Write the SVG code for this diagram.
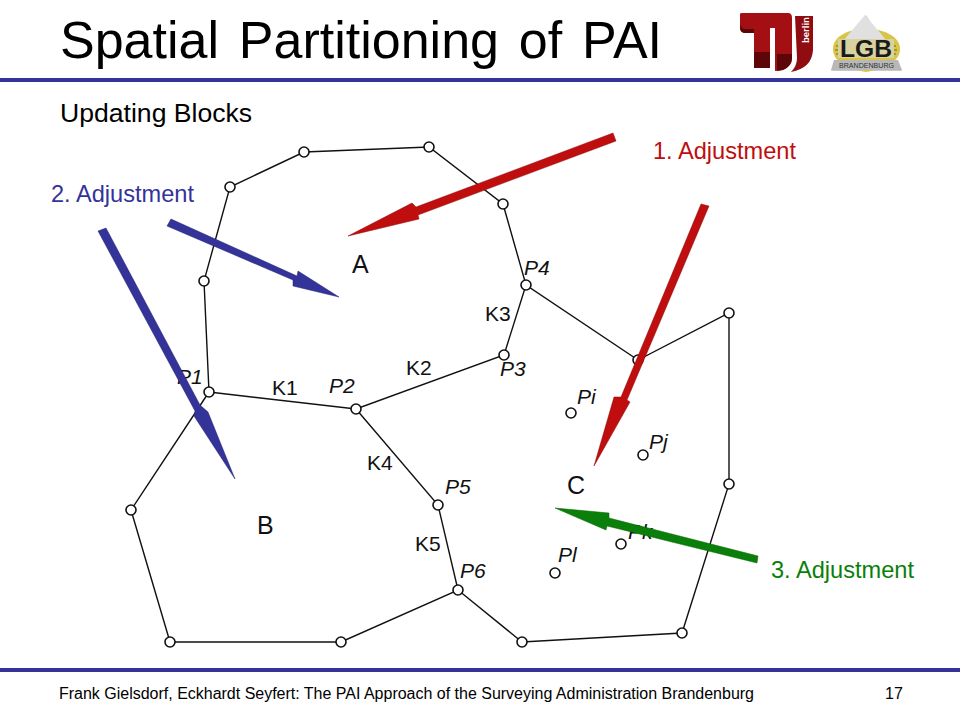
<svg xmlns="http://www.w3.org/2000/svg" width="960" height="720" viewBox="0 0 960 720">
<style>
text{font-family:"Liberation Sans",Arial,sans-serif;fill:#000}
.edge{fill:none;stroke:#111;stroke-width:1.4}
.pt{fill:#fff;stroke:#111;stroke-width:1.6}
.lab{font-size:21px;fill:#111}
.big{font-size:25px;fill:#111}
.it{font-size:21px;font-style:italic;fill:#111}
.adj{font-size:23.6px}
</style>
<rect width="960" height="720" fill="#fff"/>
<g id="header">
<text x="60" y="58" font-size="52" word-spacing="5.4">Spatial Partitioning of PAI</text>
<rect x="0" y="78" width="960" height="4" fill="#333399"/>
<text x="60" y="122" font-size="26.6">Updating Blocks</text>
</g>
<g id="logo-tu">
<path d="M740 14Q740 13 742 13H788Q792 13 792 18V58Q792 66 783 70L775 71V28H770V68H754V33H746Q740 33 740 28Z" fill="#a30f13"/>
<path d="M740 24Q741 29 746 29H754V33H746Q740 33 740 28Z M754 52H770V68H754Z M777 54H792V58Q792 66 783 70L777 71Z" fill="#5c0609"/>
<path d="M795 16H813V50Q812 68 791 72Q797 66 797 58Z" fill="#8f0d11"/>
<text transform="translate(809,43) rotate(-90)" font-size="9.5" font-weight="700" style="fill:#fff">berlin</text>
</g>
<g id="logo-lgb">
<path d="M866 15L902 71H831Z" fill="#c9c9c9"/>
<path d="M866 28C886 30 900 37 900 49C900 60 888 68 866 72C844 68 833 60 833 49C833 37 846 30 866 28Z" fill="#d8c548"/>
<path d="M836 46H896M835 50H897M836 54H896" stroke="#55501a" stroke-width="0.8"/>
<path d="M865 15L887 41H843Z" fill="#e0e0e0"/>
<rect x="838" y="39" width="56" height="19" fill="#d8d2a0"/>
<path d="M834 60H898L902 70H831Z" fill="#b8b8b8"/>
<text x="840" y="57" font-size="24" font-weight="700" textLength="52" lengthAdjust="spacingAndGlyphs" style="fill:#1a1a1a">LGB</text>
<text x="839" y="68" font-size="8" textLength="55" lengthAdjust="spacingAndGlyphs" style="fill:#333">BRANDENBURG</text>
</g>
<g id="connectors">
<path class="edge" d="M209 392L204 281L230 187L304 152L429 147L503 204L526 285L638 360L729 313V484L682 633L522 642L458 590L341 642H170L131 510L209 392"/>
<path class="edge" d="M209 392L356 409L504 355L526 285M356 409L438 505L458 590"/>
</g>
<g id="points">
<circle class="pt" cx="209" cy="392" r="5"/><circle class="pt" cx="204" cy="281" r="5"/>
<circle class="pt" cx="230" cy="187" r="5"/><circle class="pt" cx="304" cy="152" r="5"/>
<circle class="pt" cx="429" cy="147" r="5"/><circle class="pt" cx="503" cy="204" r="5"/>
<circle class="pt" cx="526" cy="285" r="5"/><circle class="pt" cx="638" cy="360" r="5"/>
<circle class="pt" cx="729" cy="313" r="5"/><circle class="pt" cx="729" cy="484" r="5"/>
<circle class="pt" cx="682" cy="633" r="5"/><circle class="pt" cx="522" cy="642" r="5"/>
<circle class="pt" cx="458" cy="590" r="5"/><circle class="pt" cx="341" cy="642" r="5"/>
<circle class="pt" cx="170" cy="642" r="5"/><circle class="pt" cx="131" cy="510" r="5"/>
<circle class="pt" cx="356" cy="409" r="5"/><circle class="pt" cx="504" cy="355" r="5"/>
<circle class="pt" cx="438" cy="505" r="5"/>
<circle class="pt" cx="571" cy="413" r="5"/><circle class="pt" cx="643" cy="455" r="5"/>
<circle class="pt" cx="621" cy="544" r="5"/><circle class="pt" cx="555" cy="573" r="5"/>
</g>
<g id="labels">
<text class="big" x="352" y="273">A</text>
<text class="big" x="257" y="534">B</text>
<text class="big" x="567" y="494">C</text>
<text class="lab" x="272" y="395">K1</text>
<text class="lab" x="406" y="375">K2</text>
<text class="lab" x="485" y="321">K3</text>
<text class="lab" x="367" y="470">K4</text>
<text class="lab" x="415" y="551">K5</text>
<text class="it" x="177" y="384">P1</text>
<text class="it" x="329" y="393">P2</text>
<text class="it" x="500" y="376">P3</text>
<text class="it" x="524" y="275">P4</text>
<text class="it" x="445" y="494">P5</text>
<text class="it" x="460" y="578">P6</text>
<text class="it" x="577" y="404">Pi</text>
<text class="it" x="649" y="449">Pj</text>
<text class="it" x="628" y="539">Pk</text>
<text class="it" x="558" y="562">Pl</text>
</g>
<g id="arrows">
<polygon fill="#c00d0d" stroke="#8a0a0a" stroke-width="0.5" points="613,133 616,141 418,215 419,219 348,236 412,203 416,207"/>
<polygon fill="#c00d0d" stroke="#8a0a0a" stroke-width="0.5" points="701,204 709,206 627,400 630,402 594,466 614,397 621,397"/>
<polygon fill="#333399" stroke="#22226e" stroke-width="0.5" points="171,219 167,226 293,280 293,286 339,297 298,271 297,276"/>
<polygon fill="#333399" stroke="#22226e" stroke-width="0.5" points="98,231 106,228 200,405 208,412 235,479 194,416 195,411"/>
<polygon fill="#0a7f0a" stroke="#066006" stroke-width="0.5" points="758,556 757,563 607,526 606,530 555,508 609,513 609,518"/>
</g>
<g id="adjustments">
<text class="adj" x="653" y="159" style="fill:#c00d0d">1. Adjustment</text>
<text class="adj" x="51" y="202" style="fill:#333399">2. Adjustment</text>
<text class="adj" x="771" y="578" style="fill:#0a7f0a">3. Adjustment</text>
</g>
<g id="footer">
<rect x="0" y="668" width="960" height="4" fill="#333399"/>
<text x="59" y="699" font-size="16" textLength="695" lengthAdjust="spacing">Frank Gielsdorf, Eckhardt Seyfert: The PAI Approach of the Surveying Administration Brandenburg</text>
<text x="885" y="699" font-size="16">17</text>
</g>
</svg>
